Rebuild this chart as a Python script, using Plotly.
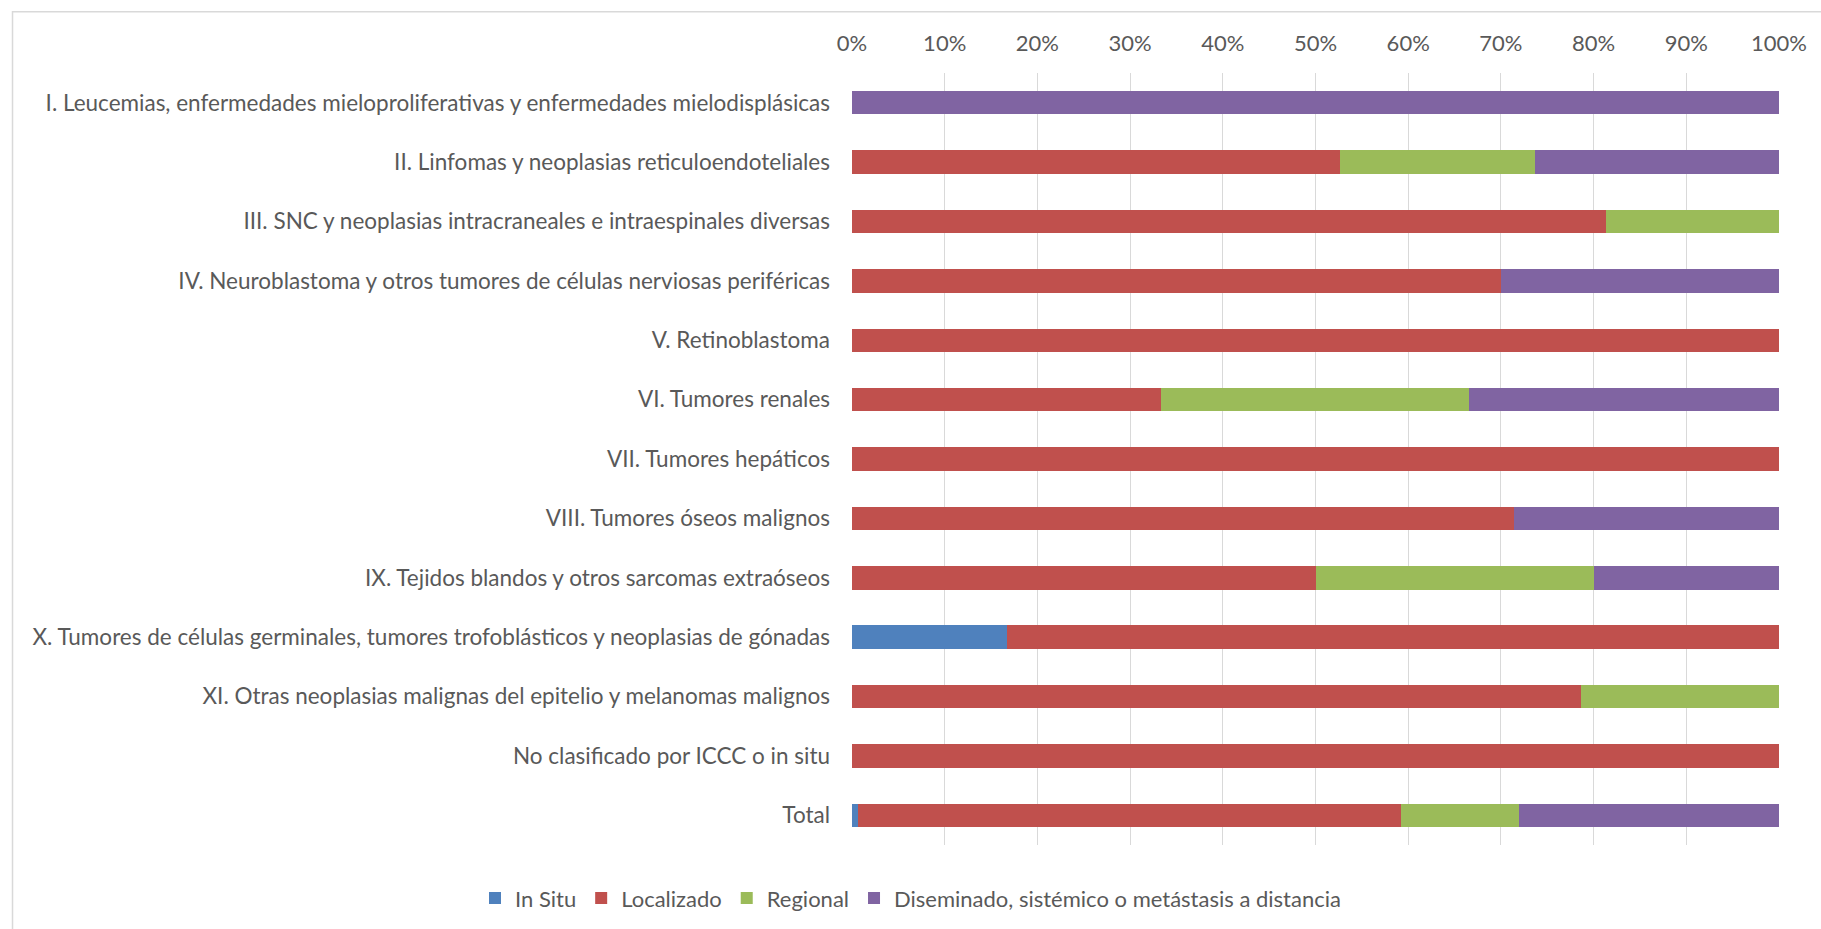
import plotly.graph_objects as go

# Grupos diagnósticos (ICCC) y distribución por extensión, en %
categorias = [
    "I. Leucemias, enfermedades mieloproliferativas y enfermedades mielodisplásicas",
    "II. Linfomas y neoplasias reticuloendoteliales",
    "III. SNC y neoplasias intracraneales e intraespinales diversas",
    "IV. Neuroblastoma y otros tumores de células nerviosas periféricas",
    "V. Retinoblastoma",
    "VI. Tumores renales",
    "VII. Tumores hepáticos",
    "VIII. Tumores óseos malignos",
    "IX. Tejidos blandos y otros sarcomas extraóseos",
    "X. Tumores de células germinales, tumores trofoblásticos y neoplasias de gónadas",
    "XI. Otras neoplasias malignas del epitelio y melanomas malignos",
    "No clasificado por ICCC o in situ",
    "Total",
]

in_situ = [0, 0, 0, 0, 0, 0, 0, 0, 0, 16.7, 0, 0, 0.7]
localizado = [0, 52.6, 81.3, 70.0, 100, 33.3, 100, 71.4, 50.0, 83.3, 78.6, 100, 58.5]
regional = [0, 21.1, 18.7, 0, 0, 33.3, 0, 0, 30.0, 0, 21.4, 0, 12.7]
diseminado = [100, 26.3, 0, 30.0, 0, 33.4, 0, 28.6, 20.0, 0, 0, 0, 28.1]

series = [
    ("In Situ", in_situ, "#4F81BD"),
    ("Localizado", localizado, "#C0504D"),
    ("Regional", regional, "#9BBB59"),
    ("Diseminado, sistémico o metástasis a distancia", diseminado, "#8064A2"),
]

FONT = "Lato"
GRIS_TEXTO = "#595959"
GRIS_LINEA = "#D9D9D9"

fig = go.Figure()
for nombre, valores, color in series:
    fig.add_trace(go.Bar(
        y=categorias,
        x=valores,
        name=nombre,
        orientation="h",
        marker=dict(color=color, line=dict(width=0)),
        hovertemplate="%{y}<br>" + nombre + ": %{x:.1f}%<extra></extra>",
    ))

fig.update_layout(
    width=1821,
    height=929,
    barmode="stack",
    bargap=0.605,
    paper_bgcolor="white",
    plot_bgcolor="white",
    margin=dict(l=852, r=42, t=73, b=84, autoexpand=False),
    font=dict(family=FONT, size=22, color=GRIS_TEXTO),
    xaxis=dict(
        side="top",
        range=[0, 100],
        dtick=10,
        ticksuffix="%",
        showgrid=True,
        gridcolor=GRIS_LINEA,
        gridwidth=1.3,
        zeroline=False,
        showline=False,
        ticks="",
        ticklabelstandoff=17,
        tickfont=dict(family=FONT, size=22, color=GRIS_TEXTO),
        fixedrange=True,
    ),
    yaxis=dict(
        autorange="reversed",
        showgrid=False,
        showline=False,
        ticks="",
        ticklabelstandoff=21,
        tickfont=dict(family=FONT, size=22.5, color=GRIS_TEXTO),
        automargin=False,
        fixedrange=True,
    ),
    legend=dict(
        orientation="h",
        x=0.5,
        xref="container",
        xanchor="center",
        y=-0.069,
        yanchor="middle",
        font=dict(family=FONT, size=22, color=GRIS_TEXTO),
        itemwidth=30,
        traceorder="normal",
    ),
    shapes=[
        # marco del área del gráfico
        dict(
            type="rect", xref="paper", yref="paper",
            x0=-0.9056, x1=1.2, y0=-0.3, y1=1.0795,
            line=dict(color=GRIS_LINEA, width=1.5),
            fillcolor="rgba(0,0,0,0)", layer="below",
        ),
    ],
)

fig.write_html("out.html")
